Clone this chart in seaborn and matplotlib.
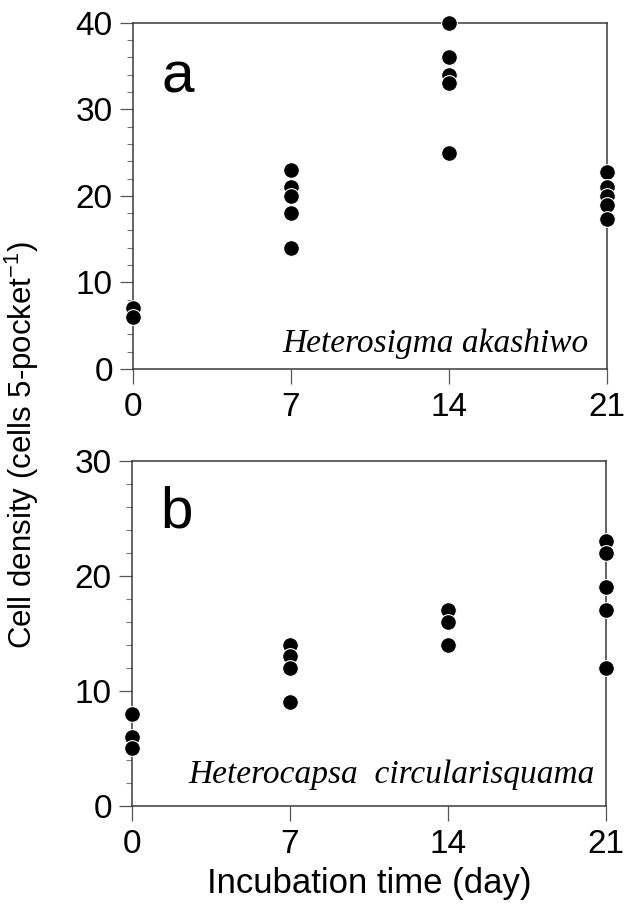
import numpy as np
import pandas as pd
import matplotlib
matplotlib.use('Agg')
import matplotlib.pyplot as plt
from matplotlib.ticker import MultipleLocator
import seaborn as sns

# data (one list per sampling day)
days = [0, 7, 14, 21]
akashiwo = {
    0: [7, 6],
    7: [23, 21, 20, 18, 14],
    14: [40, 36, 34, 33, 25],
    21: [22.7, 21, 20, 19, 17.3],
}
circularisquama = {
    0: [8, 6, 5],
    7: [14, 13, 12, 9],
    14: [17, 16, 14],
    21: [23, 22, 19, 17, 12],
}
ylims = [(0, 40), (0, 30)]
yticks = [[0, 10, 20, 30, 40], [0, 10, 20, 30]]
species = ['Heterosigma akashiwo', 'Heterocapsa  circularisquama']
panel_letters = ['a', 'b']


def to_frame(d):
    rows = []
    for day in days:
        for v in d[day]:
            rows.append({'day': day, 'density': v})
    return pd.DataFrame(rows)


sns.set_style('ticks')
plt.rcParams['font.family'] = ['Liberation Sans', 'DejaVu Sans']
plt.rcParams['mathtext.default'] = 'regular'
plt.rcParams['text.color'] = 'black'
plt.rcParams['axes.labelcolor'] = 'black'
plt.rcParams['xtick.labelcolor'] = 'black'
plt.rcParams['ytick.labelcolor'] = 'black'

fig = plt.figure(figsize=(6.36, 9.11), dpi=100)
ax_a = fig.add_axes([0.209, 0.595, 0.745, 0.380])
ax_b = fig.add_axes([0.2075, 0.1153, 0.745, 0.379])

spine_col = '#3a3a3a'
for i, (ax, d) in enumerate(zip([ax_a, ax_b], [akashiwo, circularisquama])):
    df = to_frame(d)
    sns.scatterplot(data=df, x='day', y='density', ax=ax, color='black',
                    s=128, edgecolor='white', linewidth=0.8, zorder=5,
                    clip_on=False, legend=False)
    ax.set_xlim(0, 21)
    ax.set_ylim(*ylims[i])
    ax.set_xticks(days)
    ax.set_yticks(yticks[i])
    ax.yaxis.set_minor_locator(MultipleLocator(2))
    ax.set_xlabel('')
    ax.set_ylabel('')
    for sp in ax.spines.values():
        sp.set_visible(True)
        sp.set_color(spine_col)
        sp.set_linewidth(1.1)
    ax.tick_params(axis='y', which='major', length=9.5, width=0.9,
                   color='#555555', labelsize=24, pad=5, direction='out',
                   labelcolor='black')
    ax.tick_params(axis='y', which='minor', length=4.5, width=0.8,
                   color='#777777', direction='out')
    ax.tick_params(axis='x', which='major', length=10.5, width=0.9,
                   color='#555555', labelsize=24, pad=6, direction='out',
                   labelcolor='black')
    ax.text(0.06, 0.80 if i == 0 else 0.806, panel_letters[i],
            transform=ax.transAxes, fontsize=42, ha='left', va='baseline',
            color='black')
    ax.text(0.962 if i == 0 else 0.977, 0.049 if i == 0 else 0.067, species[i],
            transform=ax.transAxes, fontsize=24, style='italic',
            family=['Liberation Serif', 'DejaVu Serif'],
            ha='right', va='baseline', color='black')

ax_b.set_xlabel('Incubation time (day)', fontsize=25, labelpad=5, color='black')
fig.text(0.035, 0.512, 'Cell density (cells 5-pocket$^{-1}$)',
         rotation=90, ha='center', va='center', fontsize=22.5, color='black',
         family=['Liberation Sans Narrow', 'Liberation Sans'])

fig.savefig('out.png', dpi=100)
